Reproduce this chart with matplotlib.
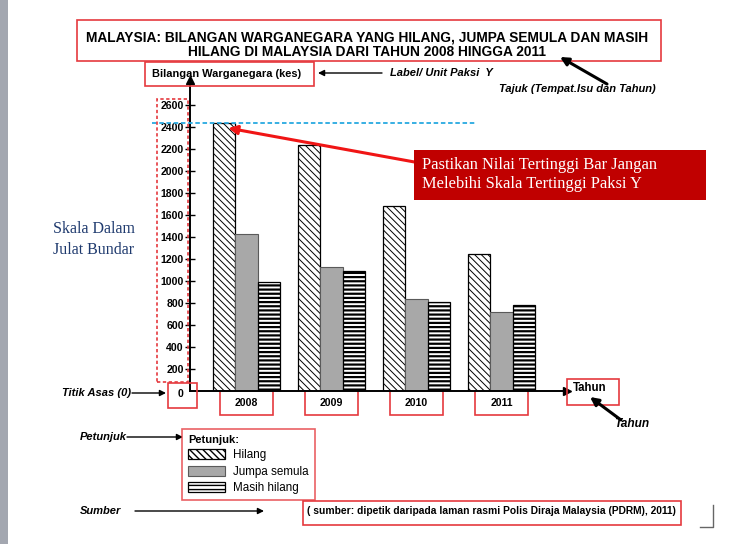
import numpy as np
import matplotlib
matplotlib.use("Agg")
import matplotlib.pyplot as plt
from matplotlib.patches import Rectangle, FancyArrowPatch
from matplotlib.lines import Line2D

plt.rcParams["font.family"] = ["Liberation Sans", "DejaVu Sans"]

# ── Data ─────────────────────────────────────────────────────────
years = ["2008", "2009", "2010", "2011"]
hilang = [2440, 2240, 1680, 1250]
jumpa_semula = [1430, 1130, 840, 720]
masih_hilang = [990, 1090, 810, 785]
y_ticks = list(range(200, 2601, 200))
series_names = ["Hilang", "Jumpa semula", "Masih hilang"]

W, H = 750, 544
RED = "#e5393e"
fig = plt.figure(figsize=(W / 100, H / 100), dpi=100)


def fx(px):
    return px / W


def fy(py):
    return 1 - py / H


def box(x0, y0, x1, y1, ec=RED, lw=1.2, **kw):
    fig.add_artist(Rectangle((fx(x0), fy(y1)), fx(x1) - fx(x0), fy(y0) - fy(y1),
                             transform=fig.transFigure, fill=False,
                             edgecolor=ec, lw=lw, **kw))


def arrow(x0, y0, x1, y1, color="black", lw=1.0, ms=9):
    fig.add_artist(FancyArrowPatch((fx(x0), fy(y0)), (fx(x1), fy(y1)),
                                   transform=fig.transFigure, arrowstyle="-|>",
                                   mutation_scale=ms, color=color, lw=lw,
                                   shrinkA=0, shrinkB=0))


def txt(x, y, s, **kw):
    kw.setdefault("va", "center")
    fig.text(fx(x), fy(y), s, **kw)


# left grey strip of the slide
fig.add_artist(Rectangle((0, 0), fx(8), 1, transform=fig.transFigure,
                         color="#a3a7b0", lw=0))

# ── Axes and bars ────────────────────────────────────────────────
ax = fig.add_axes([fx(190), fy(391), fx(567) - fx(190), fy(80) - fy(391)])
ax.set_ylim(0, (391 - 80) / 0.11)
ax.set_xlim(-0.665, 3.77)

x = np.arange(len(years))
w = 0.265
with plt.rc_context({"hatch.linewidth": 0.7}):
    b1 = ax.bar(x - w, hilang, w, facecolor="white", edgecolor="black",
                hatch="\\\\\\\\\\", lw=0.9, zorder=2)
b2 = ax.bar(x, jumpa_semula, w, facecolor="#a8a8a8", edgecolor="#5a5a5a",
            lw=0.8, zorder=2)
with plt.rc_context({"hatch.linewidth": 1.6}):
    b3 = ax.bar(x + w, masih_hilang, w, facecolor="white", edgecolor="black",
                hatch="----", lw=0.9, zorder=2)

for s in ["top", "right"]:
    ax.spines[s].set_visible(False)
for s in ["left", "bottom"]:
    ax.spines[s].set_linewidth(1.4)
ax.plot(0, 1, "^k", ms=6, transform=ax.transAxes, clip_on=False)
ax.plot(1, 0, ">k", ms=6, transform=ax.transAxes, clip_on=False)

ax.set_yticks(y_ticks)
ax.set_yticklabels([str(v) for v in y_ticks], fontweight="bold", fontsize=7.6)
ax.tick_params(axis="y", direction="inout", length=7, width=1, pad=1)
ax.set_xticks(x)
ax.set_xticklabels(years, fontweight="bold", fontsize=7.6)
ax.tick_params(axis="x", length=0, pad=5)

# boxes round the year labels
for xi in x:
    ax.add_patch(Rectangle((xi - 0.31, -(415 - 391) / 311), 0.62, 25 / 311,
                           transform=ax.get_xaxis_transform(), fill=False,
                           edgecolor=RED, lw=1.2, clip_on=False))

# blue dashed line at the highest bar
ax.hlines(hilang[0], -1.11, 2.71, colors="#27a9e1", linestyles=(0, (2.5, 1.5)),
          lw=1.3, clip_on=False, zorder=3)

# red note and arrow
fig.add_artist(Rectangle((fx(414), fy(200)), fx(706) - fx(414), fy(150) - fy(200),
                         transform=fig.transFigure, color="#c00000", lw=0))
txt(422, 165, "Pastikan Nilai Tertinggi Bar Jangan", family="Liberation Serif",
    fontsize=11.9, color="white")
txt(422, 184, "Melebihi Skala Tertinggi Paksi Y", family="Liberation Serif",
    fontsize=11.9, color="white")
ax.annotate("", xy=(x[0] - w + 0.05, hilang[0] - 50), xycoords="data",
            xytext=(fx(420), fy(163)), textcoords="figure fraction",
            arrowprops=dict(arrowstyle="-|>", color="#f01515", lw=2.2,
                            mutation_scale=13, shrinkA=0, shrinkB=0))

# ── Title and labels ─────────────────────────────────────────────
box(77, 20, 661, 61)
txt(367, 38, "MALAYSIA: BILANGAN WARGANEGARA YANG HILANG, JUMPA SEMULA DAN MASIH",
    ha="center", fontweight="bold", fontsize=9.95)
txt(367, 52, "HILANG DI MALAYSIA DARI TAHUN 2008 HINGGA 2011",
    ha="center", fontweight="bold", fontsize=9.95)

box(145, 62, 314, 86)
txt(152, 74, "Bilangan Warganegara (kes)", fontweight="bold", fontsize=7.9)
arrow(382, 73, 318, 73)
txt(390, 73, "Label/ Unit Paksi  Y", fontweight="bold", style="italic", fontsize=8)

arrow(607, 84, 560, 57, lw=2.2, ms=12)
txt(499, 89, "Tajuk (Tempat.Isu dan Tahun)", fontweight="bold", style="italic",
    fontsize=8)

txt(53, 229, "Skala Dalam", family="Liberation Serif", fontsize=11.5,
    color="#1f3a6e")
txt(53, 250, "Julat Bundar", family="Liberation Serif", fontsize=11.5,
    color="#1f3a6e")
box(157, 99, 188, 382, ls=(0, (2, 1.5)))

txt(62, 393, "Titik Asas (0)", fontweight="bold", style="italic", fontsize=8)
arrow(132, 393, 166, 393)
box(168, 383, 197, 408)
txt(181, 394, "0", ha="center", fontweight="bold", fontsize=7.6)

box(567, 379, 619, 405)
txt(573, 388, "Tahun", fontweight="bold", fontsize=8.3)
arrow(621, 420, 590, 397, lw=2.2, ms=12)
txt(614, 424, "Tahun", fontweight="bold", style="italic", fontsize=8.6)

# ── Legend ───────────────────────────────────────────────────────
txt(80, 437, "Petunjuk", fontweight="bold", style="italic", fontsize=8)
arrow(127, 437, 183, 437)
leg = fig.legend(handles=[b1, b2, b3], labels=series_names, title="Petunjuk:",
                 loc="upper left", bbox_to_anchor=(fx(182), fy(429)),
                 frameon=True, fancybox=False, edgecolor=RED, fontsize=8.4,
                 title_fontproperties={"weight": "bold", "size": 8},
                 alignment="left", handlelength=3.2, handleheight=0.9,
                 labelspacing=0.38, handletextpad=0.7, borderpad=0.5,
                 borderaxespad=0)
leg.get_frame().set_linewidth(1.2)

txt(80, 511, "Sumber", fontweight="bold", style="italic", fontsize=8)
arrow(135, 511, 264, 511)
box(303, 501, 681, 525)
txt(307, 511, "( sumber: dipetik daripada laman rasmi Polis Diraja Malaysia (PDRM), 2011)",
    fontweight="bold", fontsize=7.35)

fig.add_artist(Line2D([fx(700), fx(713), fx(713)], [fy(527), fy(527), fy(505)],
                      transform=fig.transFigure, color="#666666", lw=1))

fig.savefig("out.png", dpi=100, facecolor="white")
